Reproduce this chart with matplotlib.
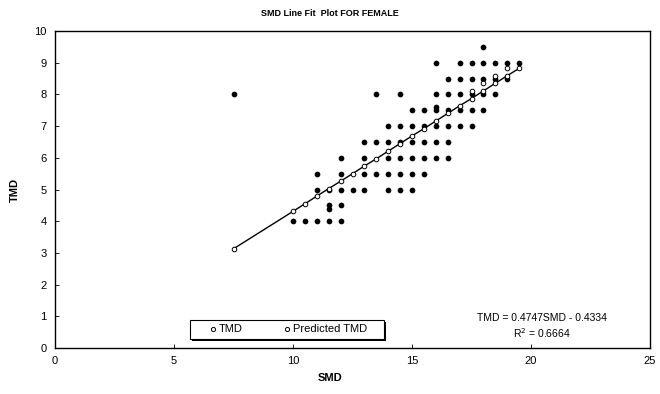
import matplotlib
matplotlib.use("Agg")
import matplotlib.pyplot as plt
from matplotlib.lines import Line2D
from matplotlib.patches import Rectangle

plt.rcParams['font.family'] = ['Liberation Sans', 'DejaVu Sans']

# Observed TMD points (SMD, TMD)
smd_obs = [18,
           16, 17, 17.5, 18, 18.5, 19, 19.5,
           16.5, 17, 17.5, 18, 18.5, 19,
           7.5, 13.5, 14.5, 16, 16.5, 17, 17.5, 18, 18.5,
           16,
           15, 15.5, 16, 16.5, 17, 17.5, 18,
           14, 14.5, 15, 15.5, 16, 16.5, 17, 17.5,
           13, 13.5, 14, 14.5, 15, 15.5, 16, 16.5,
           12, 13, 14, 14.5, 15, 15.5, 16, 16.5,
           11, 12, 13, 13.5, 14, 14.5, 15, 15.5,
           11, 11.5, 12, 12.5, 13, 14, 14.5, 15,
           11.5, 12,
           11.5,
           10, 10.5, 11, 11.5, 12]
tmd_obs = [9.5,
           9, 9, 9, 9, 9, 9, 9,
           8.5, 8.5, 8.5, 8.5, 8.5, 8.5,
           8, 8, 8, 8, 8, 8, 8, 8, 8,
           7.6,
           7.5, 7.5, 7.5, 7.5, 7.5, 7.5, 7.5,
           7, 7, 7, 7, 7, 7, 7, 7,
           6.5, 6.5, 6.5, 6.5, 6.5, 6.5, 6.5, 6.5,
           6, 6, 6, 6, 6, 6, 6, 6,
           5.5, 5.5, 5.5, 5.5, 5.5, 5.5, 5.5, 5.5,
           5, 5, 5, 5, 5, 5, 5, 5,
           4.5, 4.5,
           4.4,
           4, 4, 4, 4, 4]

# Predicted TMD points
smd_pred = [7.5, 10, 10.5, 11, 11.5, 12, 12.5, 13, 13.5, 14, 14.5, 15, 15.5,
            16, 16.5, 17, 17.5, 18, 18.5, 19, 19.5]
tmd_pred = [3.13, 4.31, 4.55, 4.79, 5.03, 5.26, 5.50, 5.74, 5.97, 6.21, 6.45,
            6.69, 6.92, 7.16, 7.40, 7.64, 7.87, 8.11, 8.35, 8.59, 8.82]
# Additional open markers seen above the line
smd_extra = [17.5, 18, 18.5, 19]
tmd_extra = [8.11, 8.35, 8.59, 8.82]

x_ticks = [0, 5, 10, 15, 20, 25]
y_ticks = [0, 1, 2, 3, 4, 5, 6, 7, 8, 9, 10]

W, H = 660, 394
fig = plt.figure(figsize=(6.6, 3.94), dpi=100)
ax = fig.add_axes([55/W, 1-348/H, 595/W, 317/H])

ax.plot(smd_pred, tmd_pred, color='black', lw=1.0, zorder=2)
ax.scatter(smd_obs, tmd_obs, s=17, color='black', zorder=3, linewidths=0)
ax.scatter(smd_pred, tmd_pred, s=11, facecolors='white', edgecolors='black',
           linewidths=0.7, zorder=4)
ax.scatter(smd_extra, tmd_extra, s=11, facecolors='white', edgecolors='black',
           linewidths=0.7, zorder=4)

ax.set_xlim(0, 25)
ax.set_ylim(0, 10)
ax.set_xticks(x_ticks)
ax.set_yticks(y_ticks)
ax.tick_params(direction='in', length=3, width=0.6, labelsize=8, pad=6)
for s in ax.spines.values():
    s.set_linewidth(1.0)
    s.set_color('black')

fig.text(330/W, 1-378/H, 'SMD', fontsize=8, fontweight='bold',
         ha='center', va='center')
fig.text(15/W, 1-190/H, 'TMD', fontsize=8, fontweight='bold',
         ha='center', va='center', rotation=90)
fig.text(330/W, 1-14/H, 'SMD Line Fit  Plot FOR FEMALE', fontsize=6.5,
         fontweight='bold', ha='center', va='center')

# equation
fig.text(542/W, 1-318/H, 'TMD = 0.4747SMD - 0.4334', fontsize=7.5,
         ha='center', va='center')
fig.text(542/W, 1-333/H, 'R$^2$ = 0.6664', fontsize=7.5,
         ha='center', va='center')

# legend box with shadow
fig.patches.append(Rectangle((192/W, 1-341/H), 194/W, 19/H,
                             transform=fig.transFigure, facecolor='black',
                             edgecolor='none', zorder=5))
fig.patches.append(Rectangle((190/W, 1-339/H), 194/W, 19/H,
                             transform=fig.transFigure, facecolor='white',
                             edgecolor='black', linewidth=0.8, zorder=6))
handles = [Line2D([], [], ls='none', marker='o', ms=3, mfc='white', mec='black', mew=0.7),
           Line2D([], [], ls='none', marker='o', ms=3, mfc='white', mec='black', mew=0.7)]
leg = fig.legend(handles, ['TMD', 'Predicted TMD'], ncol=2, loc='center',
                 bbox_to_anchor=(287/W, 1-329.5/H), fontsize=8,
                 frameon=False, borderpad=0.0,
                 handletextpad=0.05, columnspacing=3.45, handlelength=1.0)
leg.set_zorder(7)

fig.savefig('out.png', dpi=100)
